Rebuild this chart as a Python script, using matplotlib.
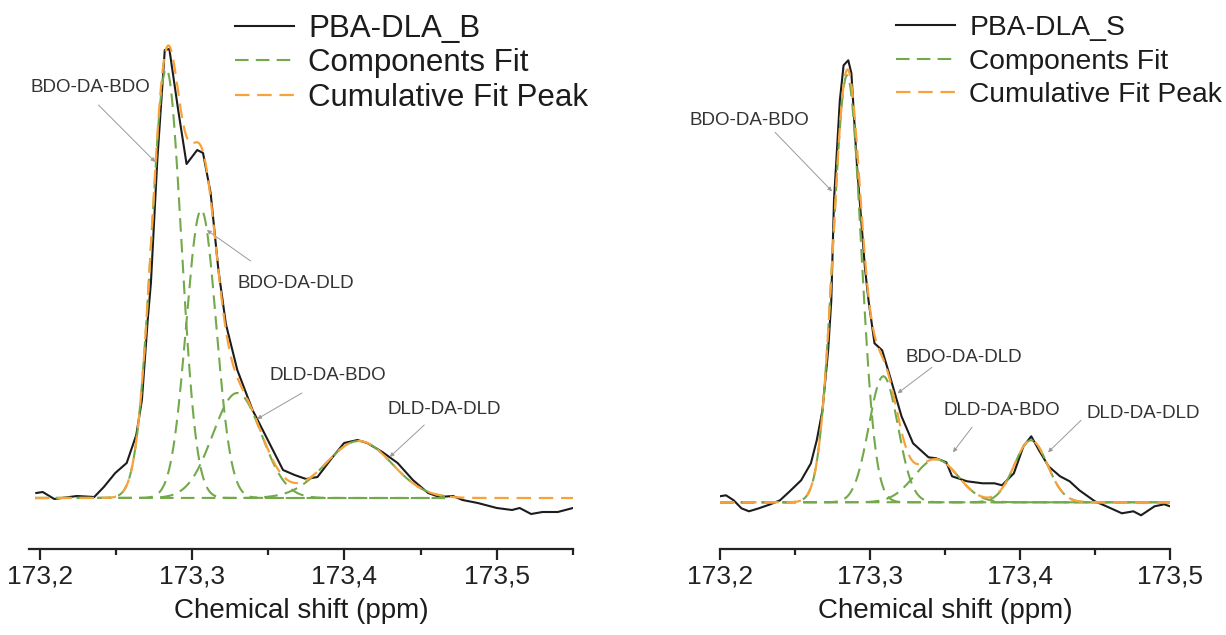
import numpy as np
import matplotlib
matplotlib.use("Agg")
import matplotlib.pyplot as plt
from matplotlib.ticker import MultipleLocator, FuncFormatter

plt.rcParams['font.family'] = ['Liberation Sans', 'DejaVu Sans']

# ---------------- data (arbitrary intensity units) ----------------
# Left panel: PBA-DLA_B
b_shift = [173.1978, 173.2020, 173.2096, 173.2245, 173.2358, 173.2421, 173.2496, 173.2571,
           173.2634, 173.2671, 173.2709, 173.2730, 173.2772, 173.2821, 173.2851, 173.2909,
           173.2964, 173.3034, 173.3072, 173.3122, 173.3173, 173.3222, 173.3297, 173.3397,
           173.3497, 173.3597, 173.3673, 173.3748, 173.3823, 173.3923, 173.3998, 173.4086,
           173.4149, 173.4249, 173.4349, 173.4449, 173.4549, 173.4624, 173.4712, 173.4775,
           173.4875, 173.5000, 173.5100, 173.5150, 173.5225, 173.5300, 173.5400, 173.5500]
b_int = [5, 6, -1, 2, 1, 11, 25, 35,
         63, 98, 178, 215, 338, 448, 449, 388,
         334, 348, 345, 305, 228, 174, 128, 88,
         58, 28, 23, 19, 21, 41, 55, 58,
         55, 46, 35, 18, 5, 1, 2, -2,
         -5, -10, -12, -10, -16, -14, -14, -10]
# fitted components (centre ppm, height, sigma ppm)
b_comp_names = ['BDO-DA-BDO', 'BDO-DA-DLD', 'DLD-DA-BDO', 'DLD-DA-DLD']
b_comp_center = [173.2831, 173.3060, 173.3296, 173.4094]
b_comp_height = [429, 288, 105, 57]
b_comp_sigma = [0.0098, 0.0098, 0.0160, 0.0216]

# Right panel: PBA-DLA_S
s_shift = [173.1997, 173.2040, 173.2091, 173.2143, 173.2193, 173.2259, 173.2336, 173.2400,
           173.2465, 173.2541, 173.2606, 173.2645, 173.2683, 173.2721, 173.2742, 173.2760,
           173.2799, 173.2824, 173.2855, 173.2876, 173.2914, 173.2966, 173.2990, 173.3030,
           173.3081, 173.3133, 173.3210, 173.3287, 173.3390, 173.3441, 173.3509, 173.3547,
           173.3647, 173.3750, 173.3830, 173.3880, 173.3959, 173.4023, 173.4075, 173.4127,
           173.4190, 173.4267, 173.4331, 173.4396, 173.4499, 173.4576, 173.4679, 173.4756,
           173.4807, 173.4897, 173.4961, 173.5000]
s_int = [6, 7, 2, -6, -9, -6, -2, 2,
         11, 22, 39, 62, 92, 152, 202, 302,
         402, 437, 442, 429, 335, 235, 202, 159,
         152, 126, 86, 59, 45, 44, 40, 26,
         21, 19, 19, 17, 29, 56, 66, 52,
         36, 26, 21, 12, 1, -4, -11, -9,
         -13, -4, -2, -4]
s_comp_names = ['BDO-DA-BDO', 'BDO-DA-DLD', 'DLD-DA-BDO', 'DLD-DA-DLD']
s_comp_center = [173.2847, 173.3089, 173.3440, 173.4073]
s_comp_height = [427, 126, 43, 62]
s_comp_sigma = [0.0093, 0.0097, 0.0147, 0.0110]

# annotation placement: (text x, text y), arrow tail, arrow head  (data coords)
b_ann_text = [(173.2334, 410), (173.3682, 215), (173.3891, 122), (173.4657, 88)]
b_ann_tail = [(173.2386, 393), (173.3384, 237), (173.3721, 105), (173.4524, 73)]
b_ann_head = [(173.2759, 336), (173.3097, 268), (173.3427, 79), (173.4297, 41)]
s_ann_text = [(173.2193, 382), (173.3627, 145), (173.3880, 92), (173.4820, 89)]
s_ann_tail = [(173.2367, 370), (173.3413, 135), (173.3680, 75), (173.4407, 82)]
s_ann_head = [(173.2747, 311), (173.3184, 109), (173.3553, 50), (173.4187, 50)]

BLACK = '#1c1c1c'
GREEN = '#72a94a'
ORANGE = '#f7a23b'

W, H = 1226, 635
fig = plt.figure(figsize=(W / 100, H / 100), dpi=100)


def comma(v, pos):
    return f"{v:.1f}".replace('.', ',')


def panel(rect, xlim, ylim, shift, inten, centers, heights, sigmas, comp_range, cum_range,
          label, names, ann_text, ann_tail, ann_head, leg_anchor, leg_fs, leg_hl, leg_pad,
          leg_ls):
    ax = fig.add_axes(rect)
    ax.set_xlim(*xlim)
    ax.set_ylim(*ylim)
    for sp in ['left', 'right', 'top']:
        ax.spines[sp].set_visible(False)
    ax.spines['bottom'].set_linewidth(1.6)
    ax.spines['bottom'].set_color('#222222')
    ax.set_yticks([])
    ax.xaxis.set_major_locator(MultipleLocator(0.1))
    ax.xaxis.set_minor_locator(MultipleLocator(0.05))
    ax.xaxis.set_major_formatter(FuncFormatter(comma))
    ax.tick_params(axis='x', which='major', direction='out', length=8, width=1.6,
                   labelsize=19, pad=3, colors='#222222')
    ax.tick_params(axis='x', which='minor', direction='out', length=4, width=1.6, colors='#222222')
    ax.set_xlabel('Chemical shift (ppm)', fontsize=20, labelpad=7, color='#1c1c1c')

    l1, = ax.plot(shift, inten, color=BLACK, lw=1.5, zorder=2, label=label)
    xc = np.linspace(comp_range[0], comp_range[1], 800)
    xcum = np.linspace(cum_range[0], cum_range[1], 1000)
    cum = np.zeros_like(xcum)
    l2 = None
    for c, h, s in zip(centers, heights, sigmas):
        g = h * np.exp(-0.5 * ((xc - c) / s) ** 2)
        l2, = ax.plot(xc, g, color=GREEN, lw=1.5, ls=(0, (6.5, 3.5)), zorder=3,
                      label='Components Fit')
        cum += h * np.exp(-0.5 * ((xcum - c) / s) ** 2)
    l3, = ax.plot(xcum, cum, color=ORANGE, lw=1.6, ls=(0, (6.5, 3.5)), zorder=4,
                  label='Cumulative Fit Peak')

    for n, t, a, b in zip(names, ann_text, ann_tail, ann_head):
        ax.text(t[0], t[1], n, fontsize=13.5, color='#333333', ha='center', va='center')
        ax.annotate('', xy=b, xytext=a,
                    arrowprops=dict(arrowstyle='-|>', color='#9a9a9a', lw=0.7,
                                    mutation_scale=6, shrinkA=0, shrinkB=0))

    leg = fig.legend(handles=[l1, l2, l3], loc='upper left', bbox_to_anchor=leg_anchor,
                     bbox_transform=fig.transFigure, frameon=False, fontsize=leg_fs,
                     handlelength=leg_hl, handletextpad=leg_pad, labelspacing=leg_ls,
                     borderpad=0, borderaxespad=0)
    for t in leg.get_texts():
        t.set_color('#1c1c1c')
    return ax


# left panel
panel([29 / W, 86 / H, (573 - 29) / W, (549 - 20) / H], (173.193, 173.55), (-51, 478),
      b_shift, b_int, b_comp_center, b_comp_height, b_comp_sigma,
      (173.197, 173.466), (173.197, 173.55), 'PBA-DLA_B', b_comp_names,
      b_ann_text, b_ann_tail, b_ann_head, (235 / W, 1 - 14 / H), 22.5, 1.9, 0.45, 0.14)

# right panel
panel([720 / W, 86 / H, (1170 - 720) / W, (549 - 20) / H], (173.2, 173.5), (-46.7, 482.3),
      s_shift, s_int, s_comp_center, s_comp_height, s_comp_sigma,
      (173.2, 173.5), (173.2, 173.5), 'PBA-DLA_S', s_comp_names,
      s_ann_text, s_ann_tail, s_ann_head, (896 / W, 1 - 15 / H), 20.3, 2.1, 0.5, 0.27)

fig.savefig('out.png', dpi=100, facecolor='white')
